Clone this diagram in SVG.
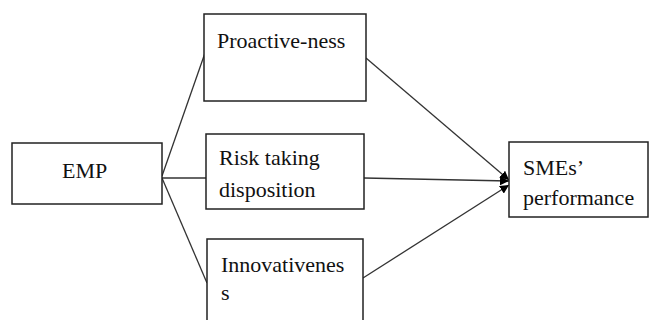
<svg xmlns="http://www.w3.org/2000/svg" width="649" height="320" viewBox="0 0 649 320">
<defs>
<marker id="ah" viewBox="0 0 10 10" refX="10" refY="5" markerWidth="9" markerHeight="9" markerUnits="userSpaceOnUse" orient="auto">
<path d="M0,0 L10,5 L0,10 z" fill="#000"/>
</marker>
<style>
.box{fill:#fff;stroke:#222;stroke-width:1.5}
.t{font-family:'Liberation Serif','DejaVu Serif',serif;font-size:22px;fill:#111}
.c{stroke:#333;stroke-width:1.3;fill:none}
.a{stroke:#333;stroke-width:1.3;fill:none;marker-end:url(#ah)}
</style>
</defs>
<rect width="649" height="320" fill="#fff"/>
<g id="connectors">
<line class="c" x1="162" y1="176" x2="205" y2="53"/>
<line class="c" x1="162" y1="178" x2="206" y2="178"/>
<line class="c" x1="162" y1="178" x2="207" y2="283"/>
<line class="a" x1="366" y1="58" x2="509" y2="180"/>
<line class="a" x1="364" y1="178" x2="509" y2="181"/>
<line class="a" x1="363" y1="278" x2="509" y2="185"/>
</g>
<g id="emp">
<rect class="box" x="12" y="143" width="150" height="61"/>
<text class="t" x="62" y="178">EMP</text>
</g>
<g id="proactiveness">
<rect class="box" x="204" y="14" width="162" height="87"/>
<text class="t" x="217" y="48">Proactive-ness</text>
</g>
<g id="risk">
<rect class="box" x="206" y="134" width="158" height="75"/>
<text class="t" x="219" y="165">Risk taking</text>
<text class="t" x="219" y="197">disposition</text>
</g>
<g id="innovativeness">
<rect class="box" x="207" y="239" width="156" height="90"/>
<text class="t" x="221" y="272">Innovativenes</text>
<text class="t" x="221" y="300">s</text>
</g>
<g id="smes">
<rect class="box" x="509" y="142" width="139" height="75"/>
<text class="t" x="523" y="175">SMEs’</text>
<text class="t" x="523" y="205">performance</text>
</g>
</svg>
